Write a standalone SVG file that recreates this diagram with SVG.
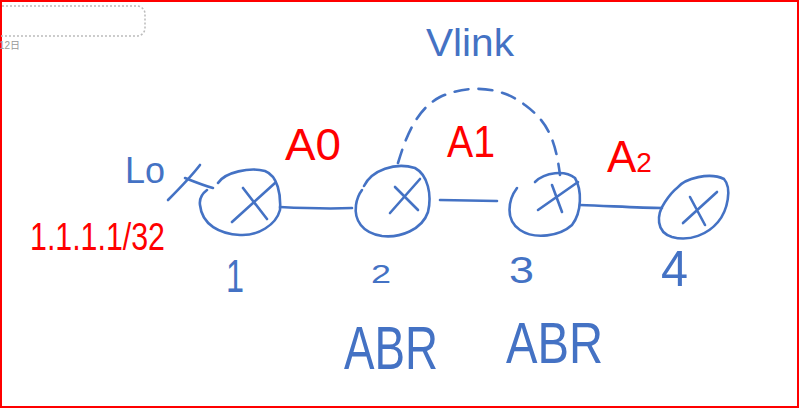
<svg xmlns="http://www.w3.org/2000/svg" width="799" height="409" viewBox="0 0 799 409">
<style>
.ink{fill:none;stroke:#4472C4;stroke-width:2.6;stroke-linecap:round;stroke-linejoin:round}
.dash{stroke-dasharray:14 10}
.b{fill:#4472C4;font-family:"Liberation Sans",Arial,sans-serif}
.r{fill:#FF0000;font-family:"Liberation Sans",Arial,sans-serif}
</style>
<rect x="0" y="0" width="799" height="409" fill="#fff"/>
<rect x="1" y="1" width="797" height="406" fill="none" stroke="#FF0000" stroke-width="2"/>
<rect x="-10" y="6" width="155" height="30" rx="8" fill="none" stroke="#BBBBBB" stroke-width="1.5" stroke-dasharray="2 2"/>
<text x="-1" y="49" font-family="'Liberation Sans','Noto Sans CJK SC',sans-serif" font-size="10" fill="#999">12日</text>

<g id="connectors">
<path class="ink" d="M280,207 C300,208 330,209 352,208"/>
<path class="ink" d="M440,200 L497,201"/>
<path class="ink" d="M580,205 C610,206 640,208 662,208"/>
<path class="ink dash" d="M398,163 C405,140 415,110 440,97 C465,85 500,85 525,105 C545,120 555,135 560,175"/>
<path class="ink" d="M168,200 C178,190 190,178 200,165"/>
<path class="ink" d="M185,178 C195,182 205,186 213,188"/>
</g>

<g id="node1">
<path class="ink" d="M218,183 C225,172 250,167 265,171 C278,176 281,195 280,210 C276,225 258,236 240,235 C220,234 202,225 200,205 C199,198 203,193 207,190"/>
<path class="ink" d="M243,188 L267,219 M275,183 L232,222"/>
</g>
<g id="node2">
<path class="ink" d="M364,186 C372,170 395,162 415,168 C428,175 432,195 428,212 C422,230 400,238 382,236 C362,233 354,220 356,205 C357,198 359,194 362,190"/>
<path class="ink" d="M395,187 L418,210 M420,179 L390,213"/>
</g>
<g id="node3">
<path class="ink" d="M517,188 C508,200 505,220 520,230 C535,240 560,236 572,225 C582,212 582,190 575,178 C565,170 545,172 535,182"/>
<path class="ink" d="M552,185 L562,212 M578,182 L538,210"/>
</g>
<g id="node4">
<path class="ink" d="M677,188 C685,178 710,172 724,179 C732,188 728,210 718,222 C708,234 690,242 672,237 C656,232 656,215 665,202 C669,196 673,191 677,188 Z"/>
<path class="ink" d="M690,197 L705,225 M717,192 L683,223"/>
</g>

<g id="labels">
<text class="b" x="426" y="56" font-size="38" textLength="88" lengthAdjust="spacingAndGlyphs">Vlink</text>
<text class="r" x="285" y="160" font-size="44" textLength="56" lengthAdjust="spacingAndGlyphs">A0</text>
<text class="r" x="447" y="157" font-size="44" textLength="48" lengthAdjust="spacingAndGlyphs">A1</text>
<text class="r" x="607" y="172" font-size="44">A<tspan font-size="28">2</tspan></text>
<text class="b" x="125" y="183" font-size="36" textLength="40" lengthAdjust="spacingAndGlyphs">Lo</text>
<text class="r" x="30" y="250" font-size="38" textLength="135" lengthAdjust="spacingAndGlyphs">1.1.1.1/32</text>
<text class="b" x="226" y="292" font-size="46" textLength="18" lengthAdjust="spacingAndGlyphs">1</text>
<text class="b" x="371" y="283" font-size="26" textLength="20" lengthAdjust="spacingAndGlyphs">2</text>
<text class="b" x="509" y="283" font-size="36" textLength="25" lengthAdjust="spacingAndGlyphs">3</text>
<text class="b" x="661" y="286" font-size="50" textLength="27" lengthAdjust="spacingAndGlyphs">4</text>
<text class="b" x="344" y="369" font-size="62" textLength="94" lengthAdjust="spacingAndGlyphs">ABR</text>
<text class="b" x="506" y="363" font-size="58" textLength="97" lengthAdjust="spacingAndGlyphs">ABR</text>
</g>
</svg>
